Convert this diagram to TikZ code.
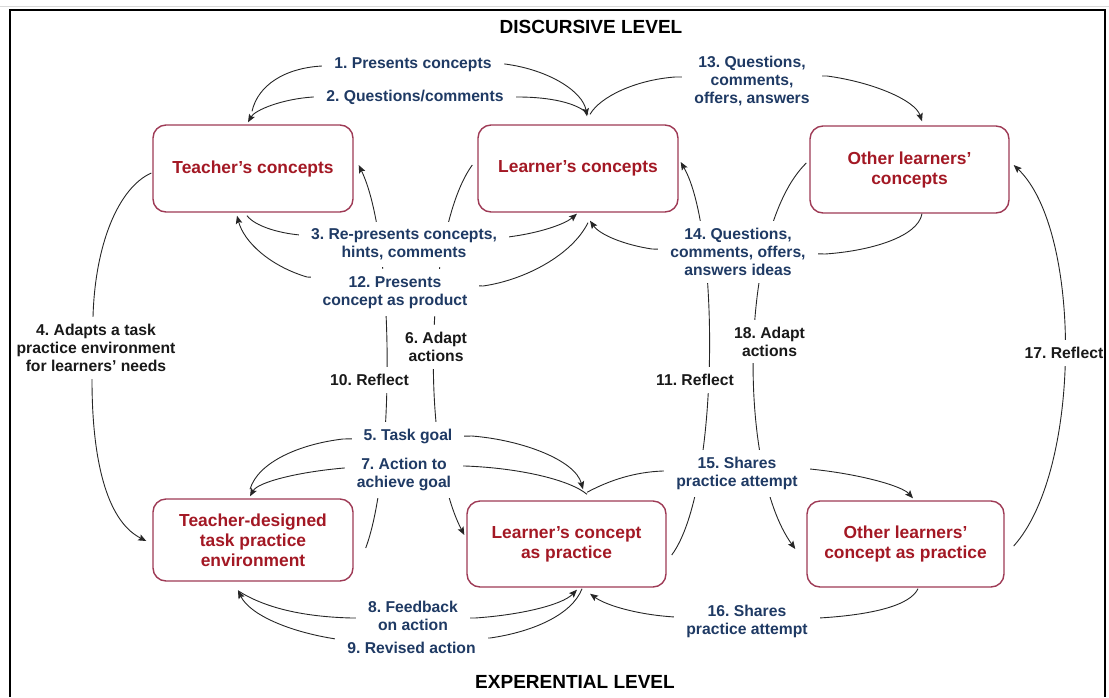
\documentclass[tikz,border=0pt]{standalone}
\usepackage{fontspec}
\setmainfont{Liberation Sans}
\frenchspacing
\usetikzlibrary{arrows.meta,calc}
\definecolor{lblblue}{RGB}{31,58,100}
\definecolor{boxred}{RGB}{163,24,36}
\definecolor{boxedge}{RGB}{158,58,85}
\begin{document}
\begin{tikzpicture}[x=1pt,y=-1pt,
  conn/.style={line width=0.9pt, draw=black!85, -{Stealth[length=8pt,width=6.5pt,inset=1.5pt]}},
  lbl/.style={fill=white, inner xsep=12pt, inner ysep=7pt, align=center, font=\fontsize{15.7}{18}\selectfont\bfseries},
  bluelbl/.style={lbl, text=lblblue},
  blacklbl/.style={lbl, text=black!90},
  concept/.style={draw=boxedge, line width=1.4pt, rounded corners=13pt, fill=white, text=boxred, align=center, font=\fontsize{17.4}{20}\selectfont\bfseries, minimum width=200pt, minimum height=87pt, inner sep=0pt},
  title/.style={font=\fontsize{19}{22}\selectfont\bfseries, text=black}
]
\useasboundingbox (0,0) rectangle (1109,697);
\clip (0,0) rectangle (1109,697);

% concept boxes
\node[concept] (TC) at (253,168.5) {Teacher’s concepts};
\node[concept] (LC) at (578,168.5) {Learner’s concepts};
\node[concept, minimum width=199pt] (OC) at (909.5,169.5) {Other learners’\\concepts};
\node[concept, minimum height=82pt] (TE) at (253,540) {Teacher-designed\\task practice\\environment};
\node[concept, minimum width=199pt, minimum height=86pt] (LP) at (566.5,544) {Learner’s concept\\as practice};
\node[concept, minimum width=197pt, minimum height=86pt] (OP) at (905.5,544) {Other learners’\\concept as practice};

% connectors
\draw[conn] ([shift={(-1,-13)}]TC.north) .. controls (258,85) and (285,68) .. (322,66) -- (505,64) .. controls (550,70) and (583,92) .. ([shift={(9,-8)}]LC.north);
\draw[conn] ([shift={(10,-10)}]LC.north) .. controls (578,103) and (550,97) .. (518,97) -- (313,97) .. controls (282,99) and (255,110) .. ([shift={(-5,-2)}]TC.north);
\draw[conn] ([shift={(12,-10)}]LC.north) .. controls (600,97) and (635,80) .. (675,77) -- (827,76) .. controls (872,82) and (915,100) .. ([shift={(12.5,-4)}]OC.north);
\draw[conn] ([shift={(-6,3)}]TC.south) .. controls (255,226) and (278,233) .. (300,235) -- (508,237) .. controls (540,233) and (565,224) .. ([shift={(-1,1)}]LC.south);
\draw[conn] ([shift={(10,10)}]LC.south) .. controls (572,255) and (525,280) .. (483,286) -- (307,277) .. controls (270,266) and (244,242) .. ([shift={(-16,3)}]TC.south);
\draw[conn] ([shift={(12.5,0)}]OC.south) .. controls (918,237) and (870,251) .. (825,254) -- (652,249) .. controls (625,245) and (600,235) .. ([shift={(12,8)}]LC.south);
\draw[conn] ([shift={(-1,4.5)}]TC.west) .. controls (118,188) and (95,245) .. (93,317) -- (92,380) .. controls (92,455) and (105,520) .. ([shift={(-6,1)}]TE.west);
\draw[conn] ([shift={(12,8)}]TE.east) .. controls (395,470) and (395,240) .. ([shift={(5,-3.5)}]TC.east);
\draw[conn] ([shift={(-5,-3.5)}]LC.west) .. controls (425,230) and (420,450) .. ([shift={(-2,-9)}]LP.west);
\draw[conn] ([shift={(5,11)}]LP.east) .. controls (720,490) and (720,230) .. ([shift={(2,-6.5)}]LC.east);
\draw[conn] ([shift={(-3,-6.5)}]OC.west) .. controls (738,230) and (738,470) .. ([shift={(-11,5)}]OP.west);
\draw[conn] ([shift={(9,2)}]OP.east) .. controls (1082,470) and (1082,230) .. ([shift={(4,-4.5)}]OC.east);
\draw[conn] ([shift={(-3,-9)}]TE.north) .. controls (258,462) and (300,444) .. (343,439) -- (472,436) .. controls (522,440) and (575,460) .. ([shift={(16.5,-11)}]LP.north);
\draw[conn] ([shift={(20.5,-6)}]LP.north) .. controls (570,480) and (520,468) .. (465,466) -- (344,468) .. controls (298,472) and (258,482) .. ([shift={(-3,-2)}]TE.north);
\draw[conn] ([shift={(20.5,-8)}]LP.north) .. controls (610,480) and (635,472) .. (663,471) -- (810,469) .. controls (860,474) and (902,486) .. ([shift={(7.5,-2)}]OP.north);
\draw[conn] ([shift={(-15,9)}]TE.south) .. controls (268,610) and (310,617) .. (352,618) -- (475,618) .. controls (520,615) and (562,605) .. ([shift={(10.5,2)}]LP.south);
\draw[conn] ([shift={(15.5,1)}]LP.south) .. controls (572,615) and (532,632) .. (490,638) -- (336,639) .. controls (290,632) and (250,615) .. ([shift={(-15,9)}]TE.south);
\draw[conn] ([shift={(12.5,1)}]OP.south) .. controls (910,606) and (870,615) .. (819,618) -- (675,617) .. controls (640,615) and (607,606) .. ([shift={(23.5,6)}]LP.south);

% labels
\node[bluelbl] (l1) at (413,64.5) {1. Presents concepts};
\node[bluelbl] (l2) at (415,97.5) {2. Questions/comments};
\node[bluelbl] (l13) at (752,81) {13. Questions,\\comments,\\offers, answers};
\node[bluelbl] (l3) at (404,244.5) {3. Re-presents concepts,\\hints, comments};
\node[bluelbl] (l12) at (395,292.5) {12. Presents\\concept as product};
\node[blacklbl] (l4) at (96,348) {4. Adapts a task\\practice environment\\for learners’ needs};
\node[blacklbl] (l6) at (436,347) {6. Adapt\\actions};
\node[blacklbl] (l10) at (369.5,380) {10. Reflect};
\node[bluelbl] (l5) at (408,436.5) {5. Task goal};
\node[bluelbl] (l7) at (404,474.5) {7. Action to\\achieve goal};
\node[bluelbl] (l8) at (413,616) {8. Feedback\\on action};
\node[bluelbl] (l9) at (411.5,648) {9. Revised action};
\node[bluelbl] (l14) at (738,252) {14. Questions,\\comments, offers,\\answers ideas};
\node[blacklbl] (l18) at (769.5,341.5) {18. Adapt\\actions};
\node[blacklbl] (l11) at (695,380) {11. Reflect};
\node[blacklbl] (l17) at (1064,353) {17. Reflect};
\node[bluelbl] (l15) at (737,473.5) {15. Shares\\practice attempt};
\node[bluelbl] (l16) at (747,621.5) {16. Shares\\practice attempt};

% titles
\node[title] (disc) at (591,26.5) {DISCURSIVE LEVEL};
\node[title] (exp) at (575,682) {EXPERENTIAL LEVEL};

% frame
\draw[gray!30, line width=1.2pt] (0,6.5) -- (1109,6.5);
\draw[line width=2pt] (10,697) -- (10,10) -- (1105,10) -- (1105,697);
\end{tikzpicture}
\end{document}
